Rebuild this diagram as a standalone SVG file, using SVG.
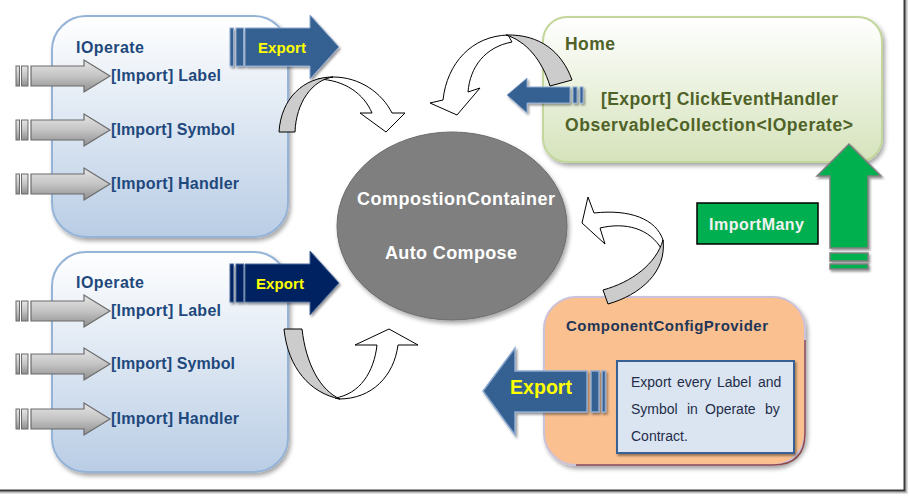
<svg xmlns="http://www.w3.org/2000/svg" width="909" height="496" viewBox="0 0 909 496">
<defs>
<linearGradient id="gBlue" x1="0" y1="0" x2="0" y2="1"><stop offset="0" stop-color="#ffffff"/><stop offset="1" stop-color="#b9cde5"/></linearGradient>
<linearGradient id="gGreen" x1="0" y1="0" x2="0" y2="1"><stop offset="0" stop-color="#ffffff"/><stop offset="1" stop-color="#d5e3bb"/></linearGradient>
<linearGradient id="gGray" x1="0" y1="0" x2="0" y2="1"><stop offset="0" stop-color="#e6e6e6"/><stop offset="0.5" stop-color="#c4c4c4"/><stop offset="1" stop-color="#8f8f8f"/></linearGradient>
<filter id="sh" x="-10%" y="-10%" width="125%" height="130%"><feDropShadow dx="2" dy="3" stdDeviation="2" flood-color="#000" flood-opacity="0.35"/></filter>
<filter id="shs" x="-10%" y="-10%" width="125%" height="130%"><feDropShadow dx="1.5" dy="2" stdDeviation="1" flood-color="#000" flood-opacity="0.4"/></filter>
<g id="imp">
<rect x="16" y="-10" width="3.5" height="20" fill="url(#gGray)" stroke="#6b6b6b" stroke-width="1"/>
<rect x="21.5" y="-10" width="6.5" height="20" fill="url(#gGray)" stroke="#6b6b6b" stroke-width="1"/>
<path d="M31,-10 H84 V-16 L110,0 L84,16 V10 H31 Z" fill="url(#gGray)" stroke="#6b6b6b" stroke-width="1.2"/>
</g>
<g id="expR">
<rect x="230" y="-19" width="3.5" height="38"/>
<rect x="236" y="-19" width="7.5" height="38"/>
<path d="M245,-19 H310 V-32 L339,0 L310,32 V19 H245 Z"/>
</g>
</defs>
<style>
.t{font-family:"Liberation Sans",Arial,sans-serif;font-weight:bold}
.blue{fill:#1f497d;font-size:16px}
.grn{fill:#4f6228;font-size:17.5px}
.yel{fill:#ffff00}
.curve{stroke:#000;stroke-width:1}
.body{font-family:"Liberation Sans",Arial,sans-serif;font-size:14px;fill:#1f2d4a}
</style>

<!-- frame -->
<g id="frame" fill="none">
<path d="M0,492 H906 V0" stroke="#bfbfbf" stroke-width="3"/>
<path d="M0,490.5 H904.5 V0" stroke="#3a3a3a" stroke-width="2"/>
</g>

<g id="ioperate1">
<rect x="52" y="16" width="236" height="221" rx="34" fill="url(#gBlue)" stroke="#95b3d7" stroke-width="2" filter="url(#sh)"/>
<text class="t blue" x="76" y="53" textLength="68">IOperate</text>
<text class="t blue" x="111" y="81" textLength="110">[Import] Label</text>
<text class="t blue" x="111" y="135" textLength="124">[Import] Symbol</text>
<text class="t blue" x="111" y="189" textLength="128">[Import] Handler</text>
</g>

<g id="ioperate2">
<rect x="52" y="252" width="236" height="220" rx="34" fill="url(#gBlue)" stroke="#95b3d7" stroke-width="2" filter="url(#sh)"/>
<text class="t blue" x="76" y="288" textLength="68">IOperate</text>
<text class="t blue" x="111" y="316" textLength="110">[Import] Label</text>
<text class="t blue" x="111" y="369" textLength="124">[Import] Symbol</text>
<text class="t blue" x="111" y="424" textLength="128">[Import] Handler</text>
</g>

<g id="home">
<rect x="543" y="17" width="339" height="145" rx="24" fill="url(#gGreen)" stroke="#c3d69b" stroke-width="2" filter="url(#sh)"/>
<text class="t grn" x="565" y="50" textLength="50">Home</text>
<text class="t grn" x="601" y="105" textLength="237">[Export] ClickEventHandler</text>
<text class="t grn" x="565" y="131" textLength="288">ObservableCollection&lt;IOperate&gt;</text>
</g>

<g id="container">
<ellipse cx="452" cy="226" rx="115" ry="94" fill="#7f7f7f" stroke="#6b6b6b" stroke-width="1" filter="url(#sh)"/>
<text class="t" x="357" y="205" fill="#ffffff" font-size="18" textLength="198">CompostionContainer</text>
<text class="t" x="385" y="259" fill="#ffffff" font-size="18" textLength="132">Auto Compose</text>
</g>

<g id="importmany">
<rect x="697" y="203" width="121" height="41" fill="#00b050" stroke="#000" stroke-width="1.5"/>
<text class="t" x="709" y="230" fill="#f2f2f2" font-size="16" textLength="95">ImportMany</text>
</g>

<g id="provider">
<rect x="544" y="297" width="261" height="168" rx="32" fill="#fac090" stroke="#ccc1da" stroke-width="2" filter="url(#sh)"/>
<path d="M805,340 V433 Q805,465 773,465 H576" fill="none" stroke="#7f2a2a" stroke-width="1.5" opacity="0.8"/>
<text class="t" x="566" y="331" fill="#1f3657" font-size="15" textLength="202">ComponentConfigProvider</text>
<rect x="617" y="361" width="177" height="92" fill="#dbe5f1" stroke="#376092" stroke-width="2" filter="url(#shs)"/>
<text class="body" y="387"><tspan x="631">Export</tspan><tspan x="677">every</tspan><tspan x="717">Label</tspan><tspan x="758">and</tspan></text>
<text class="body" y="414"><tspan x="631">Symbol</tspan><tspan x="687">in</tspan><tspan x="705">Operate</tspan><tspan x="765">by</tspan></text>
<text class="body" y="441"><tspan x="631">Contract.</tspan></text>
</g>

<g id="connectors">
<!-- import arrows -->
<use href="#imp" transform="translate(0,76)"/>
<use href="#imp" transform="translate(0,130)"/>
<use href="#imp" transform="translate(0,184)"/>
<use href="#imp" transform="translate(0,311)"/>
<use href="#imp" transform="translate(0,364)"/>
<use href="#imp" transform="translate(0,419)"/>

<!-- export arrows -->
<g fill="#366092" stroke="#8eaad0" stroke-width="1" filter="url(#shs)"><use href="#expR" transform="translate(0,47)"/></g>
<text class="t yel" x="258" y="53" font-size="15" textLength="48">Export</text>
<g fill="#002060" stroke="#4a6a9a" stroke-width="1" filter="url(#shs)"><use href="#expR" transform="translate(0,283)"/></g>
<text class="t yel" x="256" y="289" font-size="15" textLength="48">Export</text>

<g fill="#366092" stroke="#8eaad0" stroke-width="1" filter="url(#shs)">
<path d="M570,87 H527 V78 L507,95 L527,113 V103 H570 Z"/>
<rect x="573" y="87" width="4" height="16"/>
<rect x="580" y="87" width="3" height="16"/>
</g>

<g fill="#366092" stroke="#8eaad0" stroke-width="1.5" filter="url(#shs)">
<path d="M587,371 H515 V348 L483,391 L515,435 V412 H587 Z"/>
<rect x="591" y="371" width="8" height="41"/>
<rect x="602" y="371" width="3.5" height="41"/>
</g>
<text class="t yel" x="510" y="394" font-size="19.5" textLength="62">Export</text>

<!-- green import many arrow -->
<g fill="#00b050" stroke="#7f7f7f" stroke-width="1.5" filter="url(#shs)">
<path d="M830,248 V176 H817 L849,144 L881,176 H868 V248 Z"/>
<rect x="830" y="253" width="38" height="8"/>
<rect x="830" y="264" width="38" height="5"/>
</g>

<!-- curved arrow top-left -->
<path class="curve" fill="#ffffff" d="M333,77 C360,77 382,93 392,113 L405,113 L386,132 L360,113 L372,113 C364,94 345,80 318,79 Z"/>
<path class="curve" fill="#cccccc" d="M279,132 C281,99 303,77 333,77 C312,80 296,103 295,132 Z"/>

<!-- curved arrow top-right -->
<path class="curve" fill="#ffffff" d="M508,35 C472,36 447,63 443,100 L430,103 L457,115 L480,88 L468,92 C470,67 485,47 512,42 Z"/>
<path class="curve" fill="#cccccc" d="M572,80 C562,52 540,34 506,35 C526,41 542,60 550,86 Z"/>

<!-- curved arrow bottom-left -->
<path class="curve" fill="#ffffff" d="M339,399 C372,399 394,376 398,345 L418,345 L389,329 L355,345 L377,345 C374,372 360,394 335,398 Z"/>
<path class="curve" fill="#cccccc" d="M284,329 L302,329 C306,364 320,390 340,399 C310,393 288,368 284,329 Z"/>

<!-- curved arrow right -->
<path class="curve" fill="#ffffff" d="M663,240 C656,219 630,209 594,213 L588,197 L582,223 L605,244 L600,228 C625,222 650,228 662,250 Z"/>
<path class="curve" fill="#cccccc" d="M603,290 L608,304 C640,295 667,272 663,240 C656,264 632,282 603,290 Z"/>
</g>
</svg>
